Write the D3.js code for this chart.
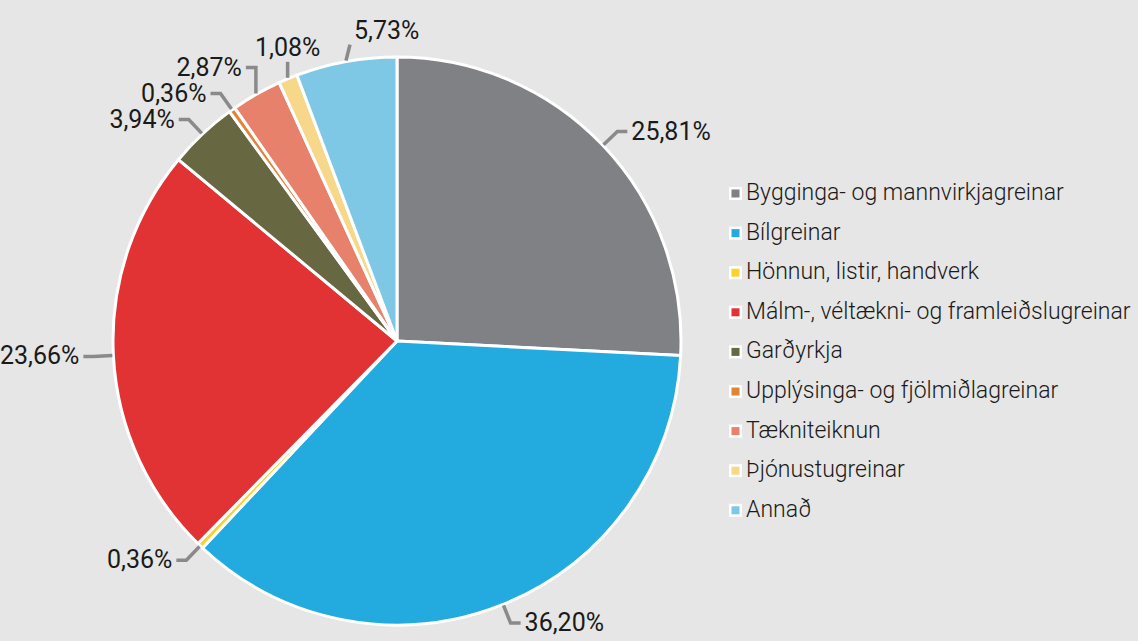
<!DOCTYPE html>
<html>
<head>
<meta charset="utf-8">
<script src="https://cdn.jsdelivr.net/npm/d3@7"></script>
<style>
  html, body { margin: 0; padding: 0; background: #e5e6e5; }
  svg { display: block; }
</style>
</head>
<body>
<div id="chart"></div>
<script>
const categories = [
  "Bygginga- og mannvirkjagreinar",
  "Bílgreinar",
  "Hönnun, listir, handverk",
  "Málm-, véltækni- og framleiðslugreinar",
  "Garðyrkja",
  "Upplýsinga- og fjölmiðlagreinar",
  "Tækniteiknun",
  "Þjónustugreinar",
  "Annað"
];
const values = [25.81, 36.20, 0.36, 23.66, 3.94, 0.36, 2.87, 1.08, 5.73];
const colors = ["#808184", "#23abe0", "#f5d330", "#e23334", "#676842", "#e0843a", "#e8816b", "#f7d88a", "#7ec8e6"];

const width = 1138, height = 641;
const cx = 397, cy = 341, r = 284;

const isl = d3.formatLocale({ decimal: ",", thousands: ".", grouping: [3], currency: ["", " kr"] });
const fmt = isl.format(".2f");

const data = categories.map((c, i) => ({ name: c, value: values[i], color: colors[i] }));

const svg = d3.select("#chart").append("svg")
  .attr("width", width)
  .attr("height", height);

const g = svg.append("g").attr("transform", `translate(${cx},${cy})`);

const pie = d3.pie().sort(null).value(d => d.value);
const arcs = pie(data);
const arc = d3.arc().innerRadius(0).outerRadius(r);

g.selectAll("path.slice")
  .data(arcs)
  .enter().append("path")
  .attr("class", "slice")
  .attr("d", arc)
  .attr("fill", d => d.data.color)
  .attr("stroke", "#fff")
  .attr("stroke-width", 3)
  .attr("stroke-linejoin", "round");

// label layout
const pt = (a, rad) => [rad * Math.sin(a), -rad * Math.cos(a)];
const labels = arcs.map(d => {
  const a = (d.startAngle + d.endAngle) / 2;
  const s = pt(a, r + 1);
  const e = pt(a, r + 20);
  const top = Math.cos(a) > 0.9;
  const side = Math.sin(a) >= 0 ? 1 : -1;
  return { d, a, s, e, top, side, y: e[1] };
});

// push left-side labels apart (from bottom upward)
const left = labels.filter(l => !l.top && l.side < 0).sort((p, q) => q.y - p.y);
for (let i = 1; i < left.length; i++) {
  if (left[i - 1].y - left[i].y < 26) left[i].y = left[i - 1].y - 26;
}

const lg = g.append("g");
labels.forEach(l => {
  let pts, tx, ty, anchor;
  if (l.top) {
    const ey = l.s[1] - 16;
    pts = [l.s, [l.s[0] + (Math.sin(l.a) > -0.3 ? 4 : 0), ey]];
    anchor = Math.sin(l.a) > -0.3 ? "start" : "middle";
    tx = anchor === "start" ? pts[1][0] + 4 : l.s[0];
    ty = anchor === "start" ? ey - 6 : ey - 6;
  } else {
    const ex = l.y !== l.e[1] ? l.s[0] : l.e[0];
    const elbow = [ex, l.y];
    const tail = [ex + 10 * l.side, l.y];
    pts = [l.s, elbow, tail];
    anchor = l.side > 0 ? "start" : "end";
    tx = tail[0] + 4 * l.side;
    ty = l.y + 8;
  }
  lg.append("path")
    .attr("d", d3.line()(pts))
    .attr("fill", "none")
    .attr("stroke", "#8a8a8a")
    .attr("stroke-width", 3.5);
  lg.append("text")
    .attr("x", tx)
    .attr("y", ty)
    .attr("text-anchor", anchor)
    .attr("font-family", "Roboto, sans-serif")
    .attr("font-size", 25)
    .attr("fill", "#1a1a1a")
    .text(fmt(l.d.data.value) + "%");
});

// legend
const legend = svg.append("g").attr("transform", "translate(729,187)");
const row = legend.selectAll("g")
  .data(data)
  .enter().append("g")
  .attr("transform", (d, i) => `translate(0,${i * 39.6})`);

row.append("rect")
  .attr("width", 13).attr("height", 13)
  .attr("fill", "#fff");
row.append("rect")
  .attr("x", 2.5).attr("y", 2.5)
  .attr("width", 8).attr("height", 8)
  .attr("fill", d => d.color);
row.append("text")
  .attr("x", 17)
  .attr("y", 13)
  .attr("font-family", "Roboto, sans-serif")
  .attr("font-weight", 300)
  .attr("font-size", 23)
  .attr("fill", "#1a1a1a")
  .text(d => d.name);
</script>
</body>
</html>
